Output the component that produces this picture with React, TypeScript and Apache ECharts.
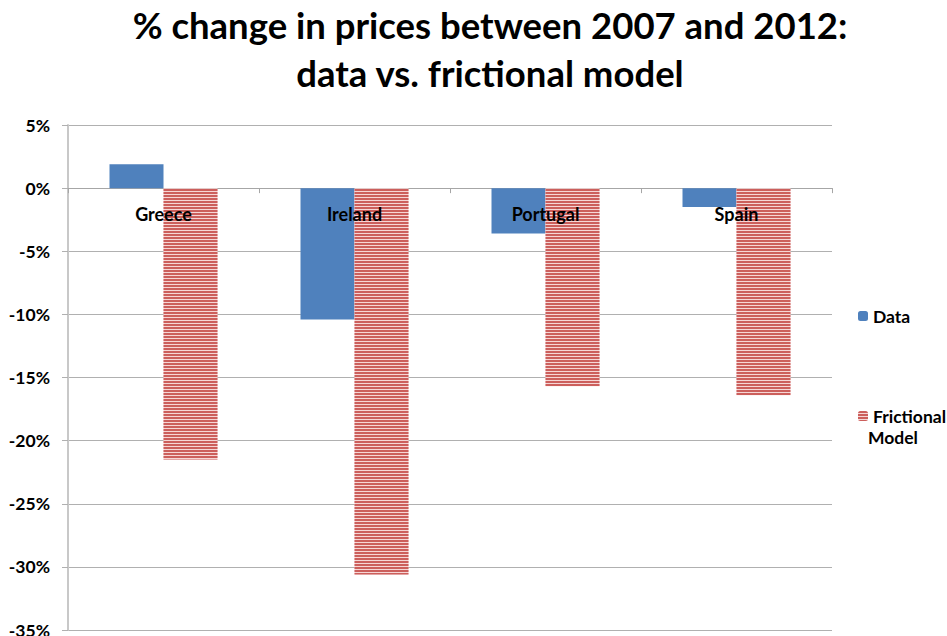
import React, { useEffect, useRef } from "react";
import * as echarts from "echarts";

const categories = ["Greece", "Ireland", "Portugal", "Spain"];
const dataValues = [1.9, -10.4, -3.6, -1.5];
const modelValues = [-21.5, -30.6, -15.7, -16.4];
const zeroLevel = [0, 0, 0, 0];
const titleLines = ["% change in prices between 2007 and 2012:", "data vs. frictional model"];
const FONT = "Lato, 'Liberation Sans', sans-serif";

export default function App() {
  const ref = useRef<HTMLDivElement>(null);
  useEffect(() => {
    if (!ref.current) return;
    const chart = echarts.init(ref.current, null, { renderer: "svg" });
    const titleStyle = { fontFamily: FONT, fontWeight: "bold", fontSize: 36.5, color: "#000" };
    chart.setOption({
      animation: false,
      backgroundColor: "#ffffff",
      title: [
        { text: titleLines[0], left: 490, top: 6, padding: 0, textAlign: "center", textStyle: titleStyle },
        { text: titleLines[1], left: 490, top: 54, padding: 0, textAlign: "center", textStyle: titleStyle },
      ],
      grid: { left: 68, right: 115, top: 125, bottom: 6, containLabel: false, outerBoundsMode: "none" },
      legend: [
        {
          data: ["Data"],
          orient: "vertical",
          left: 853,
          top: 302,
          itemWidth: 10,
          itemHeight: 10,
          textStyle: { fontFamily: FONT, fontWeight: "bold", fontSize: 17.5, color: "#000" },
          selectedMode: false,
        },
        {
          data: ["Frictional Model"],
          orient: "vertical",
          left: 853,
          top: 402,
          itemWidth: 10,
          itemHeight: 10,
          formatter: () => "Frictional",
          textStyle: { fontFamily: FONT, fontWeight: "bold", fontSize: 17.5, color: "#000" },
          selectedMode: false,
        },
      ],
      graphic: [
        {
          type: "text",
          left: 868,
          top: 428,
          style: { text: "Model", fontFamily: FONT, fontWeight: "bold", fontSize: 17.5, fill: "#000" },
        },
      ],
      xAxis: {
        type: "category",
        data: categories,
        axisLine: { onZero: true, lineStyle: { color: "#a6a6a6", width: 1 } },
        axisTick: { show: true, length: 5, lineStyle: { color: "#a6a6a6" } },
        axisLabel: { show: false },
        splitLine: { show: false },
      },
      yAxis: {
        type: "value",
        min: -35,
        max: 5,
        interval: 5,
        axisLine: { show: true, lineStyle: { color: "#c8c8c8", width: 2 } },
        axisTick: { show: true, length: 6, lineStyle: { color: "#b0b0b0" } },
        axisLabel: {
          formatter: (v: number) => `${v}%`,
          fontFamily: FONT,
          fontWeight: "bold",
          fontSize: 17.5,
          color: "#000",
          margin: 18,
        },
        splitLine: { show: true, lineStyle: { color: "#b0b0b0", width: 1 } },
      },
      series: [
        {
          name: "Data",
          type: "bar",
          data: dataValues,
          barWidth: 54,
          barGap: "0%",
          itemStyle: { color: "#4f81bd" },
        },
        {
          name: "Frictional Model",
          type: "bar",
          data: modelValues,
          barWidth: 54,
          barGap: "0%",
          itemStyle: {
            color: "#f6d6d5",
            decal: {
              symbol: "rect",
              symbolSize: 1,
              dashArrayX: [1, 0],
              dashArrayY: [2, 1],
              rotation: 0,
              color: "#cc5f5c",
            },
          },
        },
        {
          name: "labels",
          type: "scatter",
          data: zeroLevel,
          symbolSize: 0,
          silent: true,
          z: 10,
          itemStyle: { opacity: 1 },
          label: {
            show: true,
            position: "bottom",
            distance: 17,
            formatter: (p: any) => p.name,
            fontFamily: FONT,
            fontWeight: "bold",
            fontSize: 18,
            color: "#000",
            opacity: 1,
          },
        },
      ],
    });
    return () => chart.dispose();
  }, []);
  return <div ref={ref} style={{ position: "fixed", left: 0, top: 0, width: 947, height: 636 }} />;
}
